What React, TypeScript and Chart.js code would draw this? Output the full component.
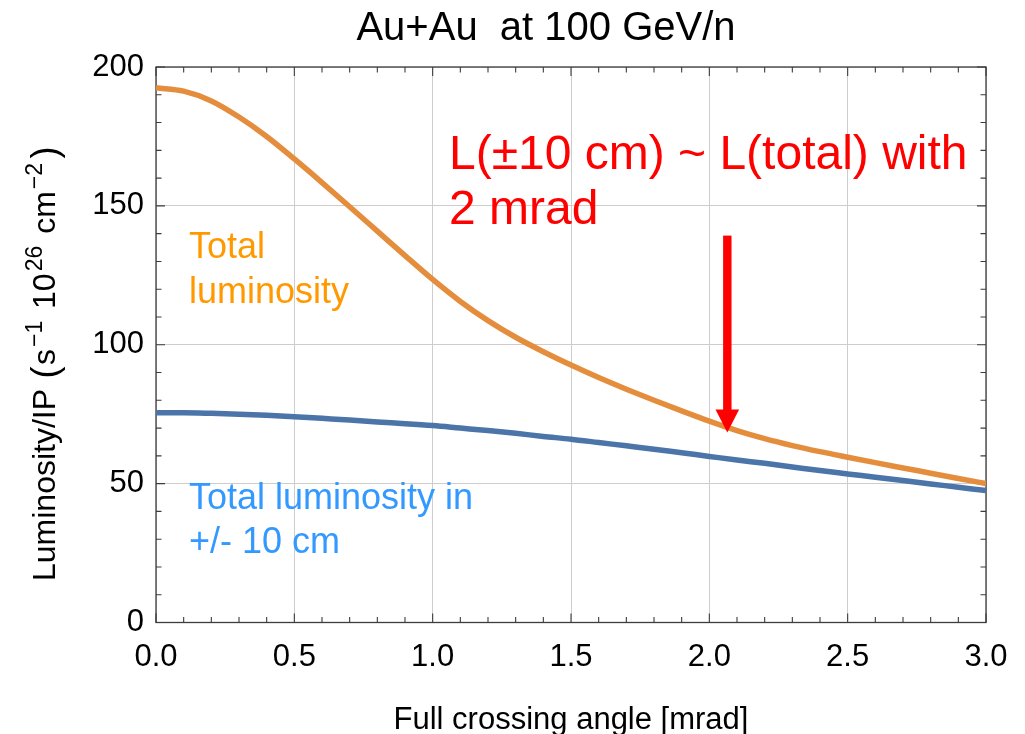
import React, { useEffect, useRef } from "react";
import { Chart, registerables } from "chart.js";

Chart.register(...registerables);

// ---- data ----
const angles = [
  0.0, 0.1, 0.2, 0.3, 0.4, 0.5, 0.6, 0.7, 0.8, 0.9, 1.0, 1.1, 1.2, 1.3, 1.4, 1.5,
  1.6, 1.7, 1.8, 1.9, 2.0, 2.1, 2.2, 2.3, 2.4, 2.5, 2.6, 2.7, 2.8, 2.9, 3.0,
];
const totalLuminosity = [
  192.5, 191.3, 187.8, 182.0, 175.0, 166.9, 158.4, 149.7, 140.9, 132.1, 123.5, 115.6,
  108.7, 102.7, 97.5, 92.7, 88.2, 84.0, 80.0, 76.2, 72.5, 69.1, 66.2, 63.7, 61.5, 59.5,
  57.55, 55.65, 53.75, 51.85, 50.0,
];
const luminosity10cm = [
  75.5, 75.5, 75.3, 75.0, 74.6, 74.1, 73.5, 72.9, 72.2, 71.6, 70.9, 70.0, 69.1, 68.1,
  67.0, 66.0, 64.8, 63.6, 62.4, 61.1, 59.8, 58.5, 57.3, 56.0, 54.7, 53.5, 52.3, 51.1,
  49.9, 48.7, 47.5,
];
const xRange = [0, 3];
const yRange = [0, 200];
const xMajorStep = 0.5;
const yMajorStep = 50;
const xMinorStep = 0.1;
const yMinorStep = 10;

const titleText = "Au+Au  at 100 GeV/n";
const xTitleText = "Full crossing angle [mrad]";
const totalLabel = ["Total", "luminosity"];
const inLabel = ["Total luminosity in", "+/- 10 cm"];
const noteLines = ["L(\u00b110 cm) ~ L(total) with", "2 mrad"];
const arrowAt = { x: 2.065, yFrom: 139.3, yTo: 68.4 };

const W = 1025;
const H = 734;
const FONT = '"Liberation Sans", Arial, Helvetica, sans-serif';

const annotationPlugin = {
  id: "mmaFrame",
  beforeDatasetsDraw(chart: any) {
    const { ctx, chartArea } = chart;
    const { left, right, top, bottom } = chartArea;
    const xs = chart.scales.x;
    const ys = chart.scales.y;
    ctx.save();
    ctx.strokeStyle = "#3c3c3c";
    ctx.lineWidth = 1.3;
    ctx.strokeRect(left, top, right - left, bottom - top);
    ctx.lineWidth = 1.1;
    ctx.beginPath();
    const nx = Math.round((xRange[1] - xRange[0]) / xMinorStep);
    const perX = Math.round(xMajorStep / xMinorStep);
    for (let i = 0; i <= nx; i++) {
      const v = xRange[0] + i * xMinorStep;
      const px = xs.getPixelForValue(v);
      const len = i % perX === 0 ? 9 : 5.5;
      ctx.moveTo(px, bottom);
      ctx.lineTo(px, bottom - len);
      ctx.moveTo(px, top);
      ctx.lineTo(px, top + len);
    }
    const ny = Math.round((yRange[1] - yRange[0]) / yMinorStep);
    const perY = Math.round(yMajorStep / yMinorStep);
    for (let i = 0; i <= ny; i++) {
      const v = yRange[0] + i * yMinorStep;
      const py = ys.getPixelForValue(v);
      const len = i % perY === 0 ? 9 : 5.5;
      ctx.moveTo(left, py);
      ctx.lineTo(left + len, py);
      ctx.moveTo(right, py);
      ctx.lineTo(right - len, py);
    }
    ctx.stroke();
    ctx.restore();
  },
  afterDraw(chart: any) {
    const { ctx, chartArea } = chart;
    const xs = chart.scales.x;
    const ys = chart.scales.y;
    ctx.save();
    ctx.textBaseline = "alphabetic";

    // title
    ctx.fillStyle = "#000";
    ctx.font = `40px ${FONT}`;
    ctx.textAlign = "center";
    ctx.fillText(titleText, 546, 39.5);

    // x title
    ctx.font = `31px ${FONT}`;
    ctx.fillText(xTitleText, (chartArea.left + chartArea.right) / 2, 728.5);

    // y title with superscripts
    ctx.save();
    ctx.translate(55, 363);
    ctx.rotate(-Math.PI / 2);
    const main = 32;
    const sup = 23;
    const segs: [string, number][] = [
      ["Luminosity/IP ", 0],
      ["(", 2],
      ["s", 0],
      ["\u22121", 1],
      [" 10", 0],
      ["26", 1],
      [" cm", 0],
      ["\u22122", 1],
      [")", 2],
    ];
    const fontFor = (k: number) => `${k === 1 ? sup : k === 2 ? 36 : main}px ${FONT}`;
    let total = 0;
    const widths = segs.map(([t, k]) => {
      ctx.font = fontFor(k);
      const w = ctx.measureText(t).width + (k === 1 ? 5 : k === 2 ? 3 : 0);
      total += w;
      return w;
    });
    let cx = -total / 2;
    ctx.textAlign = "left";
    segs.forEach(([t, k], i) => {
      ctx.font = fontFor(k);
      ctx.fillText(t, cx + (k === 1 ? 2 : k === 2 ? 1.5 : 0), k === 1 ? -13 : k === 2 ? 2 : 0);
      cx += widths[i];
    });
    ctx.restore();

    // annotations
    ctx.textAlign = "left";
    ctx.font = `36px ${FONT}`;
    ctx.fillStyle = "#FF9900";
    ctx.fillText(totalLabel[0], 189, 258);
    ctx.fillText(totalLabel[1], 189, 302.5);
    ctx.fillStyle = "#3399FF";
    ctx.fillText(inLabel[0], 189, 508.5);
    ctx.fillText(inLabel[1], 189, 552.5);

    ctx.font = `48px ${FONT}`;
    ctx.fillStyle = "#FF0000";
    ctx.fillText(noteLines[0], 449, 168.5);
    ctx.fillText(noteLines[1], 449, 223.5);

    // arrow
    const ax = xs.getPixelForValue(arrowAt.x);
    const ay0 = ys.getPixelForValue(arrowAt.yFrom);
    const ay1 = ys.getPixelForValue(arrowAt.yTo);
    const headLen = 23;
    ctx.fillRect(ax - 4.2, ay0, 8.4, ay1 - ay0 - headLen + 1);
    ctx.beginPath();
    ctx.moveTo(ax - 11.8, ay1 - headLen);
    ctx.lineTo(ax + 11.8, ay1 - headLen);
    ctx.lineTo(ax, ay1);
    ctx.closePath();
    ctx.fill();

    ctx.restore();
  },
};

export default function App() {
  const ref = useRef<HTMLCanvasElement | null>(null);
  useEffect(() => {
    if (!ref.current) return;
    const chart = new Chart(ref.current, {
      type: "line",
      data: {
        datasets: [
          {
            label: "Total luminosity in +/- 10 cm",
            data: angles.map((a, i) => ({ x: a, y: luminosity10cm[i] })),
            borderColor: "#4B74A9",
            borderWidth: 5.5,
            pointRadius: 0,
            cubicInterpolationMode: "monotone",
            fill: false,
          },
          {
            label: "Total luminosity",
            data: angles.map((a, i) => ({ x: a, y: totalLuminosity[i] })),
            borderColor: "#E48E3D",
            borderWidth: 5.5,
            pointRadius: 0,
            cubicInterpolationMode: "monotone",
            fill: false,
          },
        ],
      },
      options: {
        animation: false,
        responsive: false,
        devicePixelRatio: 1,
        layout: { padding: { left: 0, right: 39, top: 67, bottom: 0 } },
        plugins: {
          legend: { display: false },
          tooltip: { enabled: false },
          title: { display: false },
        },
        scales: {
          x: {
            type: "linear",
            min: xRange[0],
            max: xRange[1],
            afterFit: (s: any) => {
              s.height = 111.5;
            },
            border: { display: false },
            grid: { color: "#cdcdcd", lineWidth: 1, drawTicks: false },
            ticks: {
              stepSize: xMajorStep,
              padding: 16,
              color: "#000",
              font: { family: FONT, size: 31 },
              maxRotation: 0,
              callback: (v: any) => Number(v).toFixed(1),
            },
          },
          y: {
            type: "linear",
            min: yRange[0],
            max: yRange[1],
            afterFit: (s: any) => {
              s.width = 156;
            },
            border: { display: false },
            grid: { color: "#cdcdcd", lineWidth: 1, drawTicks: false },
            ticks: {
              stepSize: yMajorStep,
              padding: 12,
              color: "#000",
              font: { family: FONT, size: 31 },
            },
          },
        },
      },
      plugins: [annotationPlugin],
    } as any);
    return () => chart.destroy();
  }, []);
  return (
    <div style={{ position: "absolute", left: 0, top: 0, width: W, height: H, background: "#fff" }}>
      <canvas ref={ref} width={W} height={H} style={{ width: W, height: H, display: "block" }} />
    </div>
  );
}
